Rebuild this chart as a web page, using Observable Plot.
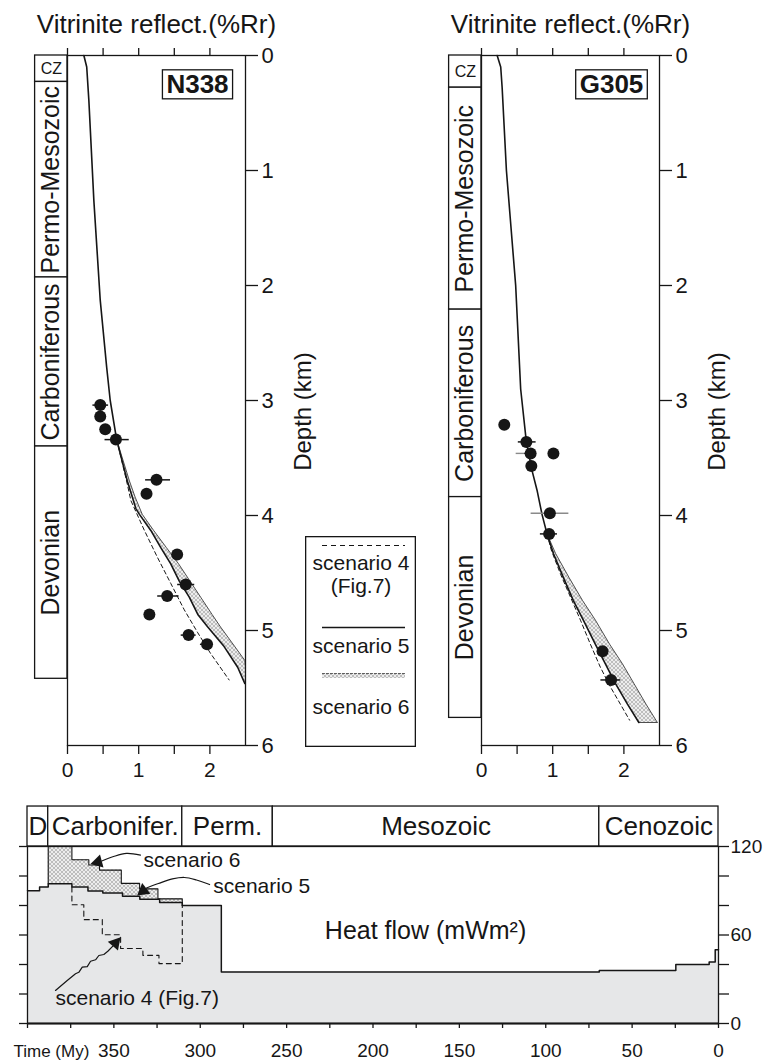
<!DOCTYPE html>
<html><head><meta charset="utf-8">
<script src="https://cdn.jsdelivr.net/npm/d3@7"></script>
<script src="https://cdn.jsdelivr.net/npm/@observablehq/plot@0.6"></script>
<style>
body{margin:0;background:#fff;}
#root{position:relative;width:767px;height:1064px;overflow:hidden;background:#fff;}
</style></head><body>
<svg width="0" height="0" style="position:absolute"><defs>
<pattern id="xh" width="4" height="4" patternUnits="userSpaceOnUse">
<rect width="4" height="4" fill="#ededed"/><path d="M0,0L4,4M4,0L0,4" stroke="#9c9c9c" stroke-width="0.6"/>
</pattern></defs></svg>
<div id="root"></div>
<script>
// ---------------- DATA ----------------
const depthTicks = [0,1,2,3,4,5,6];
const roTicks = [0,0.5,1,1.5,2];
const roLabels = [0,1,2];

const n338Strat = [
  {name:"CZ", top:0, base:0.23},
  {name:"Permo-Mesozoic", top:0.23, base:1.93},
  {name:"Carboniferous", top:1.93, base:3.40},
  {name:"Devonian", top:3.40, base:5.42}
];
const g305Strat = [
  {name:"CZ", top:0, base:0.28},
  {name:"Permo-Mesozoic", top:0.28, base:2.21},
  {name:"Carboniferous", top:2.21, base:3.84},
  {name:"Devonian", top:3.84, base:5.76}
];

// scenario 5 (solid) vitrinite curves
const n338S5 = [
  {d:0,ro:0.23},{d:0.1,ro:0.27},{d:0.39,ro:0.30},{d:1.26,ro:0.37},{d:2.13,ro:0.46},{d:2.71,ro:0.55},
  {d:3.0,ro:0.60},{d:3.34,ro:0.69},{d:3.70,ro:0.84},{d:3.84,ro:0.91},{d:3.94,ro:0.96},{d:3.99,ro:1.01},
  {d:4.13,ro:1.17},{d:4.28,ro:1.31},{d:4.42,ro:1.45},{d:4.57,ro:1.57},{d:4.71,ro:1.71},{d:4.86,ro:1.83},
  {d:4.97,ro:1.97},{d:5.14,ro:2.20},{d:5.32,ro:2.39},{d:5.46,ro:2.49}
];
const g305S5 = [
  {d:0,ro:0.22},{d:0.1,ro:0.27},{d:0.28,ro:0.29},{d:1.0,ro:0.35},{d:2.0,ro:0.48},{d:2.9,ro:0.55},
  {d:3.36,ro:0.63},{d:3.61,ro:0.71},{d:3.78,ro:0.78},{d:3.99,ro:0.85},{d:4.16,ro:0.92},{d:4.33,ro:1.01},
  {d:4.54,ro:1.15},{d:4.74,ro:1.29},{d:4.91,ro:1.43},{d:5.12,ro:1.60},{d:5.29,ro:1.74},{d:5.46,ro:1.88},
  {d:5.64,ro:2.05},{d:5.80,ro:2.21}
];
// scenario 6 (hatched band: lo = scenario 5, hi = scenario 6)
const n338S6 = [
  {d:3.34,lo:0.69,hi:0.69},{d:3.70,lo:0.84,hi:0.87},{d:3.84,lo:0.91,hi:0.95},{d:3.99,lo:1.01,hi:1.05},
  {d:4.13,lo:1.17,hi:1.21},{d:4.28,lo:1.31,hi:1.39},{d:4.42,lo:1.45,hi:1.56},{d:4.57,lo:1.57,hi:1.72},
  {d:4.71,lo:1.71,hi:1.87},{d:4.86,lo:1.83,hi:2.03},{d:4.97,lo:1.97,hi:2.15},{d:5.14,lo:2.20,hi:2.35},
  {d:5.26,lo:2.33,hi:2.49},{d:5.32,lo:2.39,hi:2.50},{d:5.46,lo:2.49,hi:2.50}
];
const g305S6 = [
  {d:4.16,lo:0.92,hi:0.92},{d:4.33,lo:1.01,hi:1.04},{d:4.54,lo:1.15,hi:1.23},{d:4.74,lo:1.29,hi:1.42},
  {d:4.91,lo:1.43,hi:1.60},{d:5.12,lo:1.60,hi:1.80},{d:5.29,lo:1.74,hi:1.98},{d:5.46,lo:1.88,hi:2.14},
  {d:5.64,lo:2.05,hi:2.31},{d:5.80,lo:2.21,hi:2.47}
];
// scenario 4 (dashed)
const n338S4 = [
  {d:3.34,ro:0.69},{d:3.70,ro:0.83},{d:3.87,ro:0.89},{d:4.13,ro:1.08},{d:4.36,ro:1.26},{d:4.59,ro:1.45},
  {d:4.82,ro:1.64},{d:5.02,ro:1.83},{d:5.20,ro:2.01},{d:5.43,ro:2.27}
];
const g305S4 = [
  {d:4.16,ro:0.92},{d:4.30,ro:0.98},{d:4.51,ro:1.11},{d:4.71,ro:1.25},{d:4.91,ro:1.39},{d:5.12,ro:1.53},
  {d:5.32,ro:1.67},{d:5.49,ro:1.81},{d:5.64,ro:1.95},{d:5.78,ro:2.08}
];
// measured vitrinite reflectance
const n338Pts = [
  {d:3.04,ro:0.46},{d:3.14,ro:0.46},{d:3.25,ro:0.53},{d:3.34,ro:0.68},{d:3.69,ro:1.25},{d:3.81,ro:1.11},
  {d:4.34,ro:1.54},{d:4.60,ro:1.66},{d:4.70,ro:1.40},{d:4.86,ro:1.15},{d:5.04,ro:1.70},{d:5.12,ro:1.96}
];
const n338Err = [
  {d:3.04,lo:0.35,hi:0.57},{d:3.34,lo:0.52,hi:0.86},{d:3.69,lo:1.09,hi:1.44},{d:4.60,lo:1.54,hi:1.78},
  {d:4.70,lo:1.26,hi:1.56},{d:5.04,lo:1.59,hi:1.80},{d:5.12,lo:1.86,hi:2.04}
];
const n338ErrGray = [];
const g305Pts = [
  {d:3.21,ro:0.32},{d:3.36,ro:0.63},{d:3.46,ro:0.69},{d:3.46,ro:1.01},{d:3.57,ro:0.70},
  {d:3.98,ro:0.96},{d:4.16,ro:0.95},{d:5.18,ro:1.70},{d:5.43,ro:1.82}
];
const g305Err = [
  {d:3.36,lo:0.51,hi:0.76},{d:3.46,lo:0.60,hi:0.76},{d:4.16,lo:0.82,hi:1.06},{d:5.43,lo:1.67,hi:1.95}
];
const g305ErrGray = [
  {d:3.46,lo:0.48,hi:0.60},{d:3.98,lo:0.69,hi:1.22}
];

// heat flow history (time My, mW/m2), step-wise
const hfTime5 = [400,393,388,374.3,365,356.4,345,335,323.5,310.4,287.8,69,24.7,5.4,1.9,0];
const hfVal5  = [90,92.5,94.7,92.5,89.8,88.4,86.2,84.3,82.1,80,35,36,40,41.7,50,50];
const hfTime6 = [388,374.3,364.5,358.3,345.7,335.1,324.5,310.4];
const hfVal6  = [120,111,107.5,104,95,91.3,84.5,80];
const hfTime4 = [374.3,374.3,367.4,356.7,346.1,333.2,323.9,310.4];
const hfVal4  = [92.5,80.5,70.4,60.2,50.8,46.2,40.6,80];

const periodNames = ["D","Carbonifer.","Perm.","Mesozoic","Cenozoic"];
const periodStart = [400,388,310.4,258,69];
const periodEnd   = [388,310.4,258,69,0];

const timeMajor = [350,300,250,200,150,100,50,0];
const timeMinor = [400,375,325,275,225,175,125,75,25];
const hfTicks = [0,20,40,60,80,100,120];
const hfLabels = [0,60,120];

// annotation leader lines (time, heat flow)
const ann6 = [{t:334.6,v:114.2},{t:342.7,v:115.3},{t:350.2,v:113.2},{t:357.0,v:110.2}];
const ann5 = [{t:294.6,v:94.2},{t:302.2,v:97.3},{t:309.1,v:99.0},{t:316.1,v:98.0},{t:324.2,v:94.9},{t:331.1,v:91.9}];
const ann4 = [{t:383.8,v:22.4},{t:377.0,v:29.2},{t:372.2,v:33.7},{t:370.3,v:34.7},{t:368.3,v:38.2},{t:365.4,v:38.6},
  {t:363.5,v:42.2},{t:360.6,v:43.2},{t:358.7,v:46.1},{t:355.8,v:46.8},{t:353.5,v:49.0},{t:350.6,v:52.5}];
const annHeads = [{t:359.2,v:109.5,rot:-105},{t:333.0,v:90.0,rot:-128},{t:349.1,v:54.5,rot:41}];
const annLabels = [
  {t:332.8,v:110.8,text:"scenario 6"},
  {t:292.5,v:92.9,text:"scenario 5"},
  {t:383.8,v:17.2,text:"scenario 4 (Fig.7)"}
];

const legendLabels = ["scenario 4","(Fig.7)","scenario 5","scenario 6"];

// ---------------- DRAW ----------------
const root = document.getElementById("root");
const FONT = '"Liberation Sans", Arial, Helvetica, sans-serif';
function hasFont(name){
  const c = document.createElement("canvas").getContext("2d");
  const s = "Permo-Mesozoic Carboniferous";
  c.font = "30px monospace"; const a = c.measureText(s).width;
  c.font = `30px "${name}", monospace`; const b = c.measureText(s).width;
  return Math.abs(a-b) > 0.5;
}
const narrowOK = hasFont("Liberation Sans Narrow");
const COLFONT = narrowOK ? '"Liberation Sans Narrow", sans-serif' : FONT;
const COLSIZE = narrowOK ? 31 : 25;
const INK = "#161616";

function place(el, left, top){
  el.style.position = "absolute"; el.style.left = left + "px"; el.style.top = top + "px";
  root.appendChild(el); return el;
}

function wellPlot(w){
  const colX1 = -0.455, colMid = -0.2275;
  return Plot.plot({
    width: 330, height: 790,
    marginLeft: 67, marginRight: 85, marginTop: 55, marginBottom: 45,
    style: {background: "transparent", overflow: "visible", fontFamily: FONT, color: INK},
    x: {domain: [0, 2.5]},
    y: {domain: [0, 6], reverse: true},
    marks: [
      Plot.rect(w.strat, {x1: colX1, x2: 0, y1: "top", y2: "base", fill: "white", stroke: INK, strokeWidth: 1.3}),
      Plot.text(w.strat.filter(d => d.name !== "CZ"), {x: colMid, y: d => (d.top + d.base) / 2, text: "name",
        rotate: -90, fontSize: COLSIZE, fontFamily: COLFONT, textAnchor: "middle", lineAnchor: "middle", fill: INK}),
      Plot.text(w.strat.filter(d => d.name === "CZ"), {x: colMid, y: d => (d.top + d.base) / 2, text: "name",
        fontSize: 16, textAnchor: "middle", lineAnchor: "middle", fill: INK}),
      Plot.areaX(w.band, {y: "d", x1: "lo", x2: "hi", fill: "url(#xh)"}),
      Plot.line(w.band, {y: "d", x: "hi", stroke: "#3a3a3a", strokeWidth: 0.9}),
      Plot.link(w.band.slice(-1), {x1: "lo", x2: "hi", y1: "d", y2: "d", stroke: "#3a3a3a", strokeWidth: 0.9}),
      Plot.line(w.dashed, {x: "ro", y: "d", stroke: INK, strokeWidth: 1, strokeDasharray: "4,3"}),
      Plot.line(w.solid, {x: "ro", y: "d", stroke: INK, strokeWidth: 1.6}),
      Plot.link(w.errGray, {x1: "lo", x2: "hi", y1: "d", y2: "d", stroke: "#8a8a8a", strokeWidth: 1.4}),
      Plot.link(w.err, {x1: "lo", x2: "hi", y1: "d", y2: "d", stroke: INK, strokeWidth: 1.5}),
      Plot.dot(w.pts, {x: "ro", y: "d", r: 6, fill: INK}),
      Plot.frame({stroke: INK, strokeWidth: 1.3}),
      Plot.axisY({anchor: "right", ticks: depthTicks, tickSize: 12, tickPadding: 4, fontSize: 22, label: null, strokeWidth: 1.3,
        tickFormat: d => String(d)}),
      Plot.axisX({anchor: "bottom", ticks: roTicks, tickSize: 9, tickPadding: 8, fontSize: 21, label: null, strokeWidth: 1.3,
        tickFormat: d => roLabels.includes(d) ? String(d) : ""}),
      Plot.axisX({anchor: "top", ticks: roTicks, tickSize: 8, label: null, strokeWidth: 1.3, tickFormat: () => ""}),
      Plot.text(["Depth (km)"], {frameAnchor: "right", dx: 58, dy: 11, rotate: -90, fontSize: 24,
        textAnchor: "middle", lineAnchor: "middle", fill: INK}),
      Plot.text(["Vitrinite reflect.(%Rr)"], {frameAnchor: "top", dy: -31, fontSize: 26,
        textAnchor: "middle", lineAnchor: "middle", fill: INK}),
      Plot.text([w.name], {frameAnchor: "top-right", dx: -48, dy: 29, fontSize: 26, fontWeight: "bold",
        textAnchor: "middle", lineAnchor: "middle", fill: INK})
    ]
  });
}

function boxLabel(svg, label){
  svg.querySelectorAll("text").forEach(t => {
    if (t.textContent === label) {
      const bb = t.getBBox();
      const r = document.createElementNS("http://www.w3.org/2000/svg", "rect");
      r.setAttribute("x", bb.x - 4); r.setAttribute("y", bb.y + 1);
      r.setAttribute("width", bb.width + 8); r.setAttribute("height", bb.height - 1);
      r.setAttribute("fill", "none"); r.setAttribute("stroke", INK); r.setAttribute("stroke-width", "1.3");
      const tr = t.getAttribute("transform"); if (tr) r.setAttribute("transform", tr);
      t.parentNode.insertBefore(r, t);
    }
  });
}

const wells = [
  {name: "N338", strat: n338Strat, solid: n338S5, band: n338S6, dashed: n338S4, pts: n338Pts, err: n338Err, errGray: n338ErrGray, left: 0},
  {name: "G305", strat: g305Strat, solid: g305S5, band: g305S6, dashed: g305S4, pts: g305Pts, err: g305Err, errGray: g305ErrGray, left: 414}
];
wells.forEach(w => {
  const svg = place(wellPlot(w), w.left, 0);
  boxLabel(svg, w.name);
});

// legend
const legend = Plot.plot({
  width: 111, height: 211, margin: 0,
  x: {type: "identity", axis: null}, y: {type: "identity", axis: null},
  style: {background: "white", overflow: "visible", fontFamily: FONT, color: INK},
  marks: [
    Plot.rect([0], {x1: 0.65, x2: 110.35, y1: 0.65, y2: 210.35, fill: "white", stroke: INK, strokeWidth: 1.3}),
    Plot.ruleY([9], {x1: 17, x2: 100, stroke: INK, strokeWidth: 1, strokeDasharray: "5,4"}),
    Plot.ruleY([91], {x1: 17, x2: 100, stroke: INK, strokeWidth: 1.4}),
    Plot.rect([0], {x1: 17, x2: 100, y1: 137, y2: 142, fill: "url(#xh)"}),
    Plot.ruleY([137], {x1: 17, x2: 100, stroke: "#444", strokeWidth: 0.8, strokeDasharray: "3,1"}),
    Plot.text(legendLabels, {x: 55.5, y: (d, i) => [27, 50, 110, 171][i], text: d => d, fontSize: 21,
      textAnchor: "middle", lineAnchor: "middle", fill: INK})
  ]
});
place(legend, 305, 536);

// heat-flow panel
const hf5 = hfTime5.map((t, i) => ({t, v: hfVal5[i]}));
const hf4 = hfTime4.map((t, i) => ({t, v: hfVal4[i]}));
function stepValue(times, vals, t){ let v = vals[0]; times.forEach((ti, i) => { if (ti >= t - 1e-9) v = vals[i]; }); return v; }
const bandTimes = Array.from(new Set([...hfTime5, ...hfTime6].filter(t => t <= hfTime6[0] && t >= hfTime6[hfTime6.length - 1]))).sort((a, b) => b - a);
const bandRows = bandTimes.map(t => ({t, lo: stepValue(hfTime5, hfVal5, t), hi: stepValue(hfTime6, hfVal6, t)}));
const hf6 = [{t: hfTime6[0], v: stepValue(hfTime5, hfVal5, hfTime6[0])}, ...hfTime6.map((t, i) => ({t, v: hfVal6[i]}))];
const periods = periodNames.map((name, i) => ({name, start: periodStart[i], end: periodEnd[i]}));

const hfPlot = Plot.plot({
  width: 767, height: 274,
  marginLeft: 27, marginRight: 49, marginTop: 56, marginBottom: 41,
  style: {background: "transparent", overflow: "visible", fontFamily: FONT, color: INK},
  x: {domain: [400, 0]},
  y: {domain: [0, 120]},
  marks: [
    Plot.areaY(hf5, {x: "t", y: "v", curve: "step-after", fill: "#e6e7e8"}),
    Plot.areaY(bandRows, {x: "t", y1: "lo", y2: "hi", curve: "step-after", fill: "url(#xh)"}),
    Plot.line(hf6, {x: "t", y: "v", curve: "step-after", stroke: INK, strokeWidth: 1.1}),
    Plot.line(hf4, {x: "t", y: "v", curve: "step-after", stroke: INK, strokeWidth: 1.1, strokeDasharray: "5,4"}),
    Plot.line(hf5, {x: "t", y: "v", curve: "step-after", stroke: INK, strokeWidth: 1.5}),
    Plot.rect(periods, {x1: "start", x2: "end", y1: 120, y2: 147.1, fill: "white", stroke: INK, strokeWidth: 1.3}),
    Plot.text(periods, {x: d => (d.start + d.end) / 2, y: 133.6, text: "name", fontSize: 26,
      textAnchor: "middle", lineAnchor: "middle", fill: INK}),
    Plot.frame({stroke: INK, strokeWidth: 1.3}),
    Plot.axisY({anchor: "right", ticks: hfTicks, tickSize: 10, tickPadding: 2, fontSize: 19, label: null, strokeWidth: 1.3,
      tickFormat: d => hfLabels.includes(d) ? String(d) : ""}),
    Plot.axisY({anchor: "left", ticks: hfTicks, tickSize: 8, label: null, strokeWidth: 1.3, tickFormat: () => ""}),
    Plot.ruleY([0], {stroke: INK, strokeWidth: 2}),
    Plot.axisX({anchor: "bottom", ticks: timeMajor, tickSize: 5, tickPadding: 15, fontSize: 19, label: null, strokeWidth: 1.3}),
    Plot.axisX({anchor: "bottom", ticks: timeMinor, tickSize: 5, label: null, strokeWidth: 1.3, tickFormat: () => ""}),
    Plot.text(["Time (My)"], {frameAnchor: "bottom-left", dx: -14, dy: 28, fontSize: 17,
      textAnchor: "start", lineAnchor: "middle", fill: INK}),
    Plot.text(["Heat flow (mWm²)"], {x: 169.6, y: 63, fontSize: 25, textAnchor: "middle", lineAnchor: "middle", fill: INK}),
    Plot.line(ann6, {x: "t", y: "v", curve: "catmull-rom", stroke: INK, strokeWidth: 1.2}),
    Plot.line(ann5, {x: "t", y: "v", curve: "catmull-rom", stroke: INK, strokeWidth: 1.2}),
    Plot.line(ann4, {x: "t", y: "v", curve: "linear", stroke: INK, strokeWidth: 1.2}),
    Plot.dot(annHeads, {x: "t", y: "v", symbol: "triangle", r: 5, rotate: "rot", fill: INK, stroke: "none"}),
    Plot.text(annLabels, {x: "t", y: "v", text: "text", fontSize: 21, textAnchor: "start", lineAnchor: "middle", fill: INK})
  ]
});
place(hfPlot, 0, 790);
</script>
</body></html>
